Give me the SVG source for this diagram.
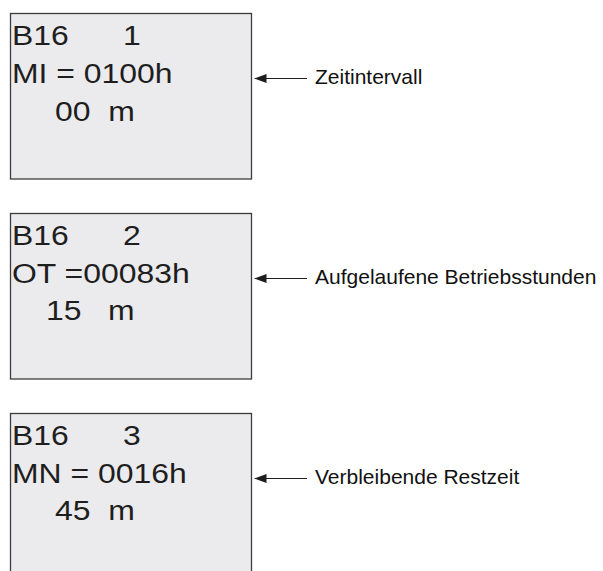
<svg xmlns="http://www.w3.org/2000/svg" width="603" height="571" viewBox="0 0 603 571">
<style>
.box{fill:#ebebed;stroke:#3c3c3c;stroke-width:1.3}
.lcd{font-family:"Liberation Sans",Arial,sans-serif;font-size:28px;fill:#1e1e1e;white-space:pre}
.lbl{font-family:"Liberation Sans",Arial,sans-serif;font-size:21px;fill:#111}
.conn{stroke:#1e1e1e;stroke-width:1.2;fill:none}
</style>
<defs>
<marker id="ah" viewBox="0 0 12 10" refX="12" refY="5" markerWidth="12" markerHeight="10" markerUnits="userSpaceOnUse" orient="auto">
<path d="M12,5 L0,0.5 L0,9.5 Z" fill="#1e1e1e"/>
</marker>
</defs>
<g id="node1">
<rect class="box" x="10.5" y="13.5" width="241" height="165.5"/>
<text class="lcd" transform="translate(12,45) scale(1.14,1)">B16</text>
<text class="lcd" transform="translate(123,45) scale(1.14,1)">1</text>
<text class="lcd" transform="translate(12,83) scale(1.14,1)">MI = 0100h</text>
<text class="lcd" transform="translate(55,121) scale(1.14,1)">00  m</text>
</g>
<g id="node2">
<rect class="box" x="10.5" y="213.5" width="241" height="165.5"/>
<text class="lcd" transform="translate(12,245) scale(1.14,1)">B16</text>
<text class="lcd" transform="translate(123,245) scale(1.14,1)">2</text>
<text class="lcd" transform="translate(12,283) scale(1.14,1)">OT =00083h</text>
<text class="lcd" transform="translate(46,320) scale(1.14,1)">15   m</text>
</g>
<g id="node3">
<rect class="box" x="10.5" y="413.5" width="241" height="170"/>
<text class="lcd" transform="translate(12,445) scale(1.14,1)">B16</text>
<text class="lcd" transform="translate(123,445) scale(1.14,1)">3</text>
<text class="lcd" transform="translate(12,483) scale(1.14,1)">MN = 0016h</text>
<text class="lcd" transform="translate(55,520) scale(1.14,1)">45  m</text>
</g>
<g id="connectors">
<line class="conn" x1="307" y1="78.5" x2="254.5" y2="78.5" marker-end="url(#ah)"/>
<line class="conn" x1="307" y1="278.5" x2="254.5" y2="278.5" marker-end="url(#ah)"/>
<line class="conn" x1="307" y1="478.5" x2="254.5" y2="478.5" marker-end="url(#ah)"/>
</g>
<g id="labels">
<text class="lbl" x="315" y="84">Zeitintervall</text>
<text class="lbl" x="315" y="284">Aufgelaufene Betriebsstunden</text>
<text class="lbl" x="315" y="484">Verbleibende Restzeit</text>
</g>
</svg>
